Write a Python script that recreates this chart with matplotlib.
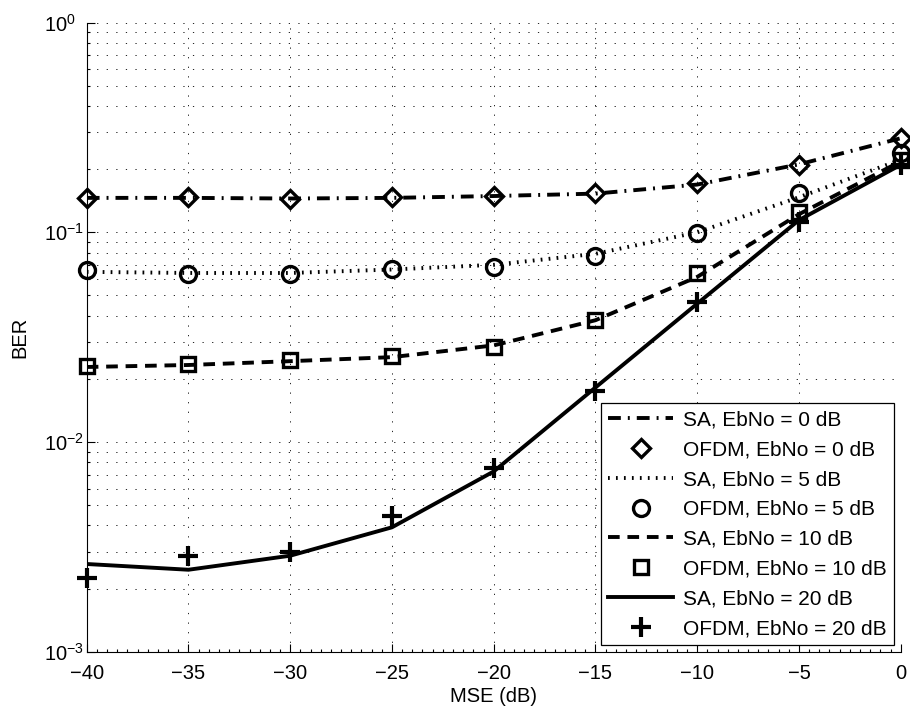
import matplotlib
matplotlib.use("Agg")
import matplotlib.pyplot as plt
from matplotlib.ticker import FixedLocator, LogLocator, NullFormatter
import numpy as np

plt.rcParams['font.family'] = ['Liberation Sans', 'DejaVu Sans']
plt.rcParams['mathtext.fontset'] = 'custom'
plt.rcParams['mathtext.rm'] = 'Liberation Sans'
plt.rcParams['font.size'] = 14.5

# MSE sweep in dB
mse_db = [-40, -35, -30, -25, -20, -15, -10, -5, 0]

# BER curves, simulated (SA) and OFDM reference, per Eb/No
sa_0 = [0.146, 0.146, 0.145, 0.146, 0.149, 0.153, 0.169, 0.211, 0.281]
ofdm_0 = [0.146, 0.147, 0.1445, 0.147, 0.149, 0.1545, 0.171, 0.2105, 0.283]
sa_5 = [0.0648, 0.0640, 0.0640, 0.0665, 0.0700, 0.079, 0.100, 0.147, 0.222]
ofdm_5 = [0.0660, 0.0636, 0.0636, 0.0667, 0.0684, 0.0772, 0.0988, 0.1535, 0.239]
sa_10 = [0.0228, 0.0233, 0.0243, 0.0254, 0.0289, 0.0381, 0.0613, 0.122, 0.218]
ofdm_10 = [0.0230, 0.02365, 0.0245, 0.0256, 0.0284, 0.0381, 0.0643, 0.1253, 0.221]
sa_20 = [0.00262, 0.00246, 0.00287, 0.00392, 0.00724, 0.0182, 0.0457, 0.1144, 0.210]
ofdm_20 = [0.00225, 0.00285, 0.00300, 0.00446, 0.0075, 0.0176, 0.0466, 0.112, 0.210]

x_ticks = [-40, -35, -30, -25, -20, -15, -10, -5, 0]
y_ticks = [1e-3, 1e-2, 1e-1, 1e0]

fig = plt.figure(figsize=(9.1, 7.08), dpi=100)
ax = fig.add_axes([0.0953, 0.0795, 0.8945, 0.8885])

lw = 2.8
mew = 2.4
mk = dict(color='k', linestyle='none', mfc='none', clip_on=False)
ax.semilogy(mse_db, sa_0, color='k', lw=lw, linestyle=(0, (3.3, 1.8, 0.5, 1.8)),
            dash_capstyle='butt', label='SA, EbNo = 0 dB')
ax.semilogy(mse_db, ofdm_0, marker='D', ms=9.5, mew=mew, label='OFDM, EbNo = 0 dB', **mk)
ax.semilogy(mse_db, sa_5, color='k', lw=lw, linestyle=(0, (0.45, 1.6)),
            dash_capstyle='butt', label='SA, EbNo = 5 dB')
ax.semilogy(mse_db, ofdm_5, marker='o', ms=11.5, mew=mew, label='OFDM, EbNo = 5 dB', **mk)
ax.semilogy(mse_db, sa_10, color='k', lw=lw, linestyle=(0, (3.0, 2.0)),
            dash_capstyle='butt', label='SA, EbNo = 10 dB')
ax.semilogy(mse_db, ofdm_10, marker='s', ms=10.5, mew=mew, label='OFDM, EbNo = 10 dB', **mk)
ax.semilogy(mse_db, sa_20, color='k', lw=lw, linestyle='-', label='SA, EbNo = 20 dB')
ax.semilogy(mse_db, ofdm_20, marker='+', ms=14, mew=3.0, label='OFDM, EbNo = 20 dB', **mk)

ax.set_xlim(-40, 0)
ax.set_ylim(1e-3, 1e0)
ax.set_xticks(x_ticks)
ax.set_xticklabels([str(t).replace('-', '\u2212') for t in x_ticks])
ax.xaxis.set_minor_locator(FixedLocator(np.arange(-40, 0.01, 0.5)))
ax.set_yticks(y_ticks)
ax.yaxis.set_minor_locator(LogLocator(base=10, subs=np.arange(2, 10), numticks=20))
ax.yaxis.set_minor_formatter(NullFormatter())

# matlab-ish axes: no box, inward ticks, dotted grid
ax.spines['top'].set_visible(False)
ax.spines['right'].set_visible(False)
for s in ('left', 'bottom'):
    ax.spines[s].set_linewidth(0.8)
ax.tick_params(which='both', direction='in', top=False, right=False, width=0.8)
ax.tick_params(which='major', length=6)
ax.tick_params(which='minor', length=2.5)
ax.tick_params(axis='x', which='major', pad=9)
ax.tick_params(axis='y', which='major', pad=31)
plt.setp(ax.get_yticklabels(), ha='left')

grid_style = dict(color='k', lw=0.6, linestyle=(0, (1.5, 10)))
ax.grid(True, axis='x', which='major', **grid_style)
ax.grid(True, axis='y', which='both', **grid_style)

ax.set_xlabel('MSE (dB)', labelpad=3)
ax.set_ylabel('BER', labelpad=10)

leg = ax.legend(loc='lower right', handlelength=3.1, handletextpad=0.5,
                labelspacing=0.52, borderpad=0.35, borderaxespad=0.3,
                fancybox=False, framealpha=1, numpoints=1, fontsize=15)
leg.get_frame().set_edgecolor('k')
leg.get_frame().set_linewidth(0.9)

fig.savefig('out.png', dpi=100)
